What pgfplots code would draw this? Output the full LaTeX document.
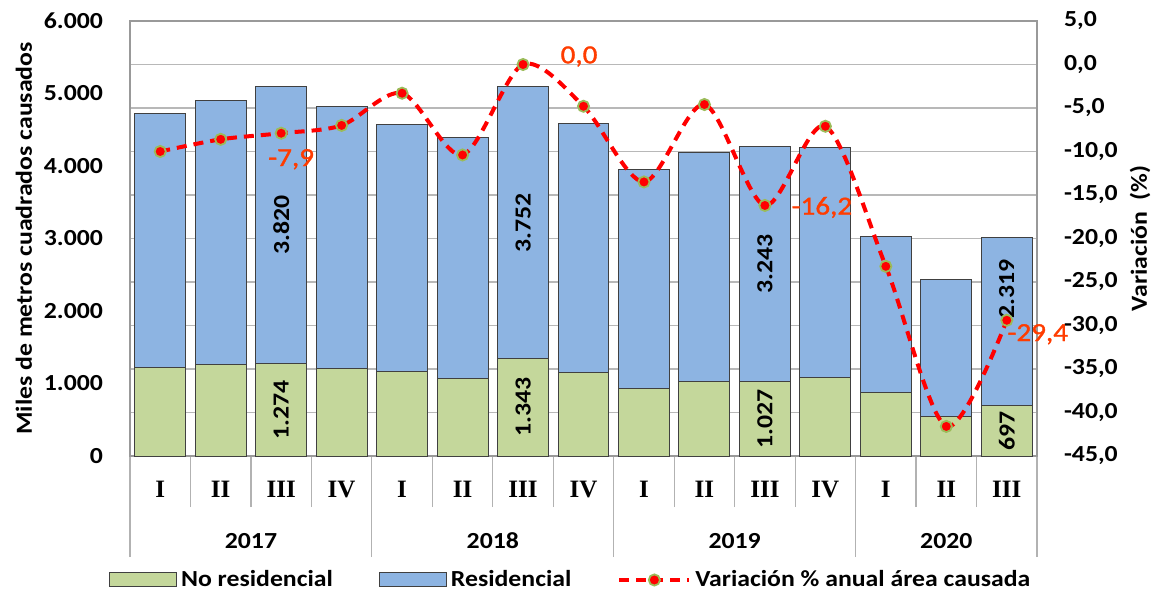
\documentclass[border=0pt]{standalone}
\usepackage{pgfplots}
\pgfplotsset{compat=1.18}
\usepackage{pgfplotstable}
\usepackage{fontspec}
\setmainfont{Carlito}[FakeStretch=1.12]
\newfontfamily\labfont{Carlito}[FakeStretch=1.12, FakeBold=1.3]
\newfontfamily\romanfont{Liberation Serif}
\definecolor{nores}{RGB}{196,215,155}
\definecolor{res}{RGB}{141,180,226}
\definecolor{mk}{RGB}{155,187,89}
\definecolor{lab}{RGB}{255,60,0}
\newcommand{\tfont}{\bfseries\fontsize{11.5}{13}\selectfont}

\pgfplotstableread{
x nores res var
0 1223 3508 -10.0
1 1260 3650 -8.6
2 1274 3820 -7.9
3 1205 3609 -7.0
4 1172 3394 -3.3
5 1071 3325 -10.4
6 1343 3752 0.0
7 1154 3435 -4.8
8 929 3020 -13.5
9 1034 3150 -4.6
10 1027 3243 -16.2
11 1085 3168 -7.1
12 874 2156 -23.2
13 543 1885 -41.6
14 697 2319 -29.4
}\datatable

\pgfplotsset{
  common/.style={width=453.5pt,height=217.5pt,scale only axis,
    xmin=-0.5,xmax=14.5,at={(0,0)},anchor=south west},
  linelegend/.style={legend image code/.code={
    \draw[mark repeat=2,mark phase=2,##1] plot coordinates {(0pt,0pt) (17.5pt,0pt) (35pt,0pt)};}}
}
% convert left-axis value (0..6000) to right-axis scale (-45..5)
\newcommand{\lv}[1]{-45+#1/120}

\begin{document}
\begin{tikzpicture}
\useasboundingbox (-65pt,-69pt) rectangle (513pt,228pt);
% grid + right axis + year separators
\begin{axis}[common,
  ymin=-45,ymax=5, ytick={-45,-40,...,5},
  yticklabels={{-45,0},{-40,0},{-35,0},{-30,0},{-25,0},{-20,0},{-15,0},{-10,0},{-5,0},{0,0},{5,0}},
  ytick pos=right, yticklabel pos=right,
  ytick style={draw=none},
  yticklabel style={font=\tfont, xshift=10pt},
  ymajorgrids, major grid style={black!28, line width=0.6pt},
  axis line style={black!30, line width=0.6pt},
  ylabel={Variación\ \ (\%)},
  ylabel style={font=\tfont, at={(axis description cs:1.1136,0.5)}, anchor=center},
  xtick={-0.5,3.5,7.5,11.5,14.5}, xticklabels={},
  xtick pos=left, xtick align=outside, major tick length=50.5pt,
  xtick style={black!30, line width=0.6pt},
  extra x ticks={1.5,5.5,9.5,13},
  extra x tick labels={2017,2018,2019,2020},
  extra x tick style={major tick length=0pt, xticklabel style={yshift=-35pt}},
  xticklabel style={font=\tfont},
]
\end{axis}
% bars
\begin{axis}[common,
  ybar stacked, bar width=0.843,
  ymin=0,ymax=6000, ytick={0,1000,...,6000},
  yticklabels={0,{1.000},{2.000},{3.000},{4.000},{5.000},{6.000}},
  ytick pos=left, ytick style={draw=none},
  yticklabel style={font=\tfont, xshift=-10pt},
  ylabel={Miles de metros cuadrados causados},
  ylabel style={font=\tfont, at={(axis description cs:-0.1169,0.5)}, anchor=center},
  xtick={0,...,14},
  xticklabels={I,II,III,IV,I,II,III,IV,I,II,III,IV,I,II,III},
  xticklabel style={font=\romanfont\bfseries\fontsize{12.5}{14}\selectfont, yshift=-9pt},
  minor xtick={-0.5,0.5,...,14.5},
  xtick pos=left, xtick align=outside,
  major tick length=0pt, minor tick length=25.5pt,
  xtick style={black!30, line width=0.6pt},
  axis line style={black!40, line width=0.6pt},
]
\addplot[fill=nores, draw=black!75, line width=0.5pt] table[x=x,y=nores]{\datatable};
\addplot[fill=res, draw=black!75, line width=0.5pt] table[x=x,y=res]{\datatable};
\end{axis}
% bar value labels, line and legend
\begin{axis}[common,
  ymin=-45,ymax=5, hide axis, clip=false,
  legend style={at={(axis description cs:0.487,-0.285)}, anchor=center,
    legend columns=3, draw=none, fill=none, font=\tfont,
    /tikz/every even column/.append style={column sep=21pt}},
  legend cell align=left,
]
\node[rotate=90, font=\tfont] at (axis cs:2,{\lv{637}}) {1.274};
\node[rotate=90, font=\tfont] at (axis cs:2,{\lv{3184}}) {3.820};
\node[rotate=90, font=\tfont] at (axis cs:6,{\lv{671}}) {1.343};
\node[rotate=90, font=\tfont] at (axis cs:6,{\lv{3219}}) {3.752};
\node[rotate=90, font=\tfont] at (axis cs:10,{\lv{513}}) {1.027};
\node[rotate=90, font=\tfont] at (axis cs:10,{\lv{2648}}) {3.243};
\node[rotate=90, font=\tfont] at (axis cs:14,{\lv{348}}) {697};
\node[rotate=90, font=\tfont] at (axis cs:14,{\lv{2300}}) {2.319};
\addlegendimage{legend image code/.code={\draw[fill=nores,draw=black!75,line width=0.5pt] (0pt,-3.5pt) rectangle (33.5pt,3.5pt);}}
\addlegendentry{No residencial}
\addlegendimage{legend image code/.code={\draw[fill=res,draw=black!75,line width=0.5pt] (0pt,-3.5pt) rectangle (33.5pt,3.5pt);}}
\addlegendentry{Residencial}
\addplot[red, line width=2pt, dash pattern=on 5pt off 3.5pt, smooth,
  mark=*, mark size=2.8pt,
  mark options={solid, fill=red, draw=mk, line width=0.9pt}, linelegend]
  table[x=x,y=var]{\datatable};
\addlegendentry{Variación \% anual área causada}
\node[font=\labfont\fontsize{13}{15}\selectfont, text=lab] at (axis cs:2,-7.9) [xshift=5pt,yshift=-13pt] {-7,9};
\node[font=\labfont\fontsize{13}{15}\selectfont, text=lab] at (axis cs:6,0) [xshift=28pt,yshift=4pt] {0,0};
\node[font=\labfont\fontsize{13}{15}\selectfont, text=lab] at (axis cs:10,-16.2) [xshift=28.5pt,yshift=-1pt] {-16,2};
\node[font=\labfont\fontsize{13}{15}\selectfont, text=lab] at (axis cs:14,-29.4) [xshift=15.5pt,yshift=-7pt] {-29,4};
\end{axis}
\end{tikzpicture}
\end{document}
